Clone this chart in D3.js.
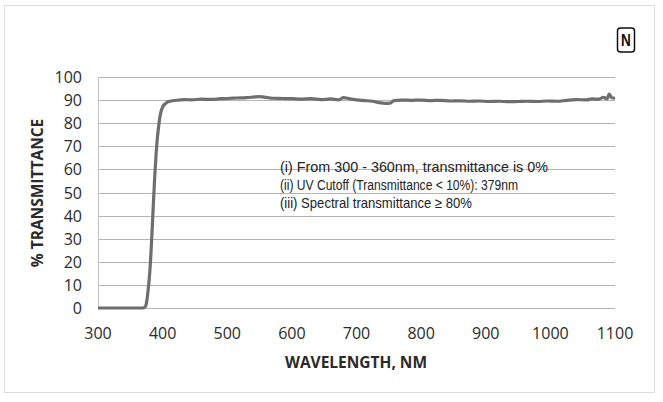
<!DOCTYPE html>
<html>
<head>
<meta charset="utf-8">
<script src="https://cdn.jsdelivr.net/npm/d3@7"></script>
<style>
  body { margin: 0; background: #fff; }
</style>
</head>
<body>
<script>
// wavelength (nm) and % transmittance
const wavelength = [300, 320, 340, 360, 370, 372, 374, 376, 378, 380, 382, 384, 386, 388, 390, 392, 394, 396, 398, 400,
  404, 408, 415, 425, 435, 445, 460, 475, 490, 500, 515, 530, 540, 550, 560, 570, 585, 600, 615, 630, 645, 660,
  672, 680, 690, 700, 712, 725, 735, 745, 752, 758, 770, 785, 800, 815, 830, 845, 860, 875, 890, 905, 920, 935,
  950, 965, 980, 995, 1010, 1025, 1040, 1055, 1065, 1075, 1082, 1088, 1091, 1095, 1100];
const transmittance = [0, 0, 0, 0, 0, 0.3, 1, 4, 9, 15, 24, 35, 47, 58, 67, 74, 79, 83, 85.5, 87,
  88.4, 89.2, 89.7, 90.0, 90.2, 90.1, 90.4, 90.3, 90.6, 90.7, 90.9, 91.1, 91.3, 91.5, 91.2, 90.8, 90.7, 90.6, 90.4, 90.6, 90.2, 90.5,
  90.1, 91.1, 90.5, 90.1, 89.8, 89.5, 88.9, 88.6, 88.7, 89.8, 90.0, 89.9, 90.0, 89.8, 89.9, 89.6, 89.7, 89.5, 89.6, 89.4, 89.5, 89.3,
  89.4, 89.5, 89.4, 89.6, 89.5, 89.9, 90.2, 90.1, 90.5, 90.4, 91.2, 90.6, 92.6, 91.0, 90.8];

const xTicks = [300, 400, 500, 600, 700, 800, 900, 1000, 1100];
const yTicks = [0, 10, 20, 30, 40, 50, 60, 70, 80, 90, 100];

const notes = [
  "(i) From 300 - 360nm, transmittance is 0%",
  "(ii) UV Cutoff (Transmittance < 10%): 379nm",
  "(iii) Spectral transmittance \u2265 80%"
];
// widths of the note lines as they stand in the original
const noteWidths = [268, 238, 192];
const noteSizes = [15, 14, 14.5];

const W = 663, H = 402;

const svg = d3.select("body").append("svg")
  .attr("width", W)
  .attr("height", H);

// outer frame
svg.append("rect")
  .attr("x", 4.5).attr("y", 5.5)
  .attr("width", 650).attr("height", 387)
  .attr("fill", "none")
  .attr("stroke", "#b8b8b8")
  .attr("stroke-dasharray", "1,1");

const x = d3.scaleLinear().domain([300, 1100]).range([98, 615]);
const y = d3.scaleLinear().domain([0, 100]).range([308, 77]);

// grid lines
svg.append("g")
  .selectAll("line")
  .data(yTicks)
  .join("line")
  .attr("x1", x(300))
  .attr("x2", x(1100))
  .attr("y1", d => Math.round(y(d)) + 0.5)
  .attr("y2", d => Math.round(y(d)) + 0.5)
  .attr("stroke", "#b4b4b4")
  .attr("stroke-width", 1);

// y axis line
svg.append("line")
  .attr("x1", 98.5).attr("x2", 98.5)
  .attr("y1", y(100)).attr("y2", y(0))
  .attr("stroke", "#c4c4c4");

// y tick labels
svg.append("g")
  .selectAll("text")
  .data(yTicks)
  .join("text")
  .attr("x", 82)
  .attr("y", d => y(d) + 6)
  .attr("text-anchor", "end")
  .attr("font-family", "Open Sans, sans-serif")
  .attr("font-size", 16)
  .attr("fill", "#2a2a2a")
  .text(d => d);

// x tick labels
svg.append("g")
  .selectAll("text")
  .data(xTicks)
  .join("text")
  .attr("x", d => x(d))
  .attr("y", 339)
  .attr("text-anchor", "middle")
  .attr("font-family", "Open Sans, sans-serif")
  .attr("font-size", 16)
  .attr("fill", "#2a2a2a")
  .text(d => d);

// axis titles
svg.append("text")
  .attr("x", 356)
  .attr("y", 368)
  .attr("text-anchor", "middle")
  .attr("font-family", "Open Sans, sans-serif")
  .attr("font-weight", "bold")
  .attr("font-size", 15.5)
  .attr("fill", "#2a2a2a")
  .text("WAVELENGTH, NM");

svg.append("text")
  .attr("transform", "translate(43,193) rotate(-90)")
  .attr("text-anchor", "middle")
  .attr("font-family", "Open Sans, sans-serif")
  .attr("font-weight", "bold")
  .attr("font-size", 15.5)
  .attr("fill", "#2a2a2a")
  .text("% TRANSMITTANCE");

// the curve
const data = wavelength.map((w, i) => ({ w: w, t: transmittance[i] }));
const line = d3.line()
  .x(d => x(d.w))
  .y(d => y(d.t))
  .curve(d3.curveMonotoneX);

svg.append("path")
  .datum(data)
  .attr("d", line)
  .attr("fill", "none")
  .attr("stroke", "#6e6e6e")
  .attr("stroke-width", 3.2)
  .attr("stroke-linejoin", "round");

// notes, squeezed to the widths of the condensed font in the original
svg.append("g")
  .selectAll("text")
  .data(notes)
  .join("text")
  .attr("x", 280)
  .attr("y", (d, i) => 172 + i * 18)
  .attr("font-family", "Liberation Sans, Arial, sans-serif")
  .attr("font-size", (d, i) => noteSizes[i])
  .attr("fill", "#222")
  .attr("textLength", (d, i) => noteWidths[i])
  .attr("lengthAdjust", "spacingAndGlyphs")
  .text(d => d);

// "N" badge
svg.append("rect")
  .attr("x", 617.5).attr("y", 28)
  .attr("width", 17).attr("height", 24)
  .attr("rx", 3)
  .attr("fill", "#fff")
  .attr("stroke", "#111")
  .attr("stroke-width", 1.5);

svg.append("text")
  .attr("x", 626)
  .attr("y", 46)
  .attr("text-anchor", "middle")
  .attr("font-family", "Liberation Sans, Arial, sans-serif")
  .attr("font-weight", "bold")
  .attr("font-size", 16)
  .attr("transform", "translate(626,0) scale(0.85,1) translate(-626,0)")
  .attr("fill", "#111")
  .text("N");
</script>
</body>
</html>
